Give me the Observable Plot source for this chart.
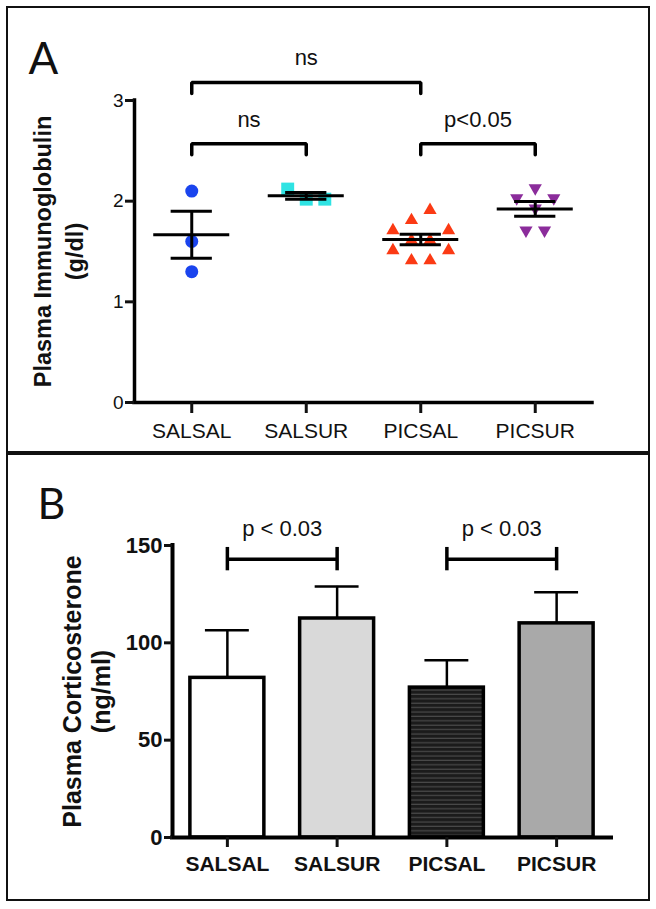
<!DOCTYPE html>
<html>
<head>
<meta charset="utf-8">
<script src="https://cdn.jsdelivr.net/npm/d3@7"></script>
<script src="https://cdn.jsdelivr.net/npm/@observablehq/plot@0.6"></script>
<style>
html, body { margin: 0; padding: 0; background: #fff; }
#page { position: relative; width: 656px; height: 909px; overflow: hidden; }
.abs { position: absolute; left: 0; }
#box { position: absolute; left: 6px; top: 6px; width: 644px; height: 895px; border: 2px solid #111; box-sizing: border-box; pointer-events: none; }
#divider { position: absolute; left: 6px; top: 451px; width: 644px; height: 4px; background: #111; }
</style>
</head>
<body>
<div id="page">
  <div id="panelA" class="abs" style="top:0"></div>
  <div id="panelB" class="abs" style="top:453px"></div>
  <div id="box"></div>
  <div id="divider"></div>
</div>
<script>
// ---------- data ----------
const groups = ["SALSAL", "SALSUR", "PICSAL", "PICSUR"];

// Panel A: plasma immunoglobulin (g/dl), individual animals (data order)
const immSALSAL = [2.10, 1.60, 1.30];
const immSALSUR = [2.12, 2.02, 2.02];
const immPICSAL = [1.81, 1.91, 1.71, 1.61, 1.61, 1.71, 1.51, 1.41, 1.41, 1.51];
const immPICSUR = [2.03, 2.13, 2.03, 1.93, 1.71, 1.71];
const immTicks = [0, 1, 2, 3];
const immComparisons = [
  {from: "SALSAL", to: "PICSAL", label: "ns", level: 3.18},
  {from: "SALSAL", to: "SALSUR", label: "ns", level: 2.57},
  {from: "PICSAL", to: "PICSUR", label: "p<0.05", level: 2.57}
];

// Panel B: plasma corticosterone (ng/ml), mean and SEM
const corticoMean = [82, 112.5, 77, 110];
const corticoSEM = [24.5, 16.5, 14, 16];
const corticoTicks = [0, 50, 100, 150];
const corticoComparisons = [
  {from: "SALSAL", to: "SALSUR", label: "p < 0.03", level: 143},
  {from: "PICSAL", to: "PICSUR", label: "p < 0.03", level: 143}
];

// ---------- styles ----------
const font = "'Liberation Sans', Arial, Helvetica, sans-serif";
const pointColor = ["#1a44ee", "#2fe3e3", "#fb3a14", "#8b2c9b"];
const downTriangle = {
  draw(ctx, size) {
    const y = Math.sqrt(size / (Math.sqrt(3) * 3));
    ctx.moveTo(0, 2 * y);
    ctx.lineTo(-Math.sqrt(3) * y, -y);
    ctx.lineTo(Math.sqrt(3) * y, -y);
    ctx.closePath();
  }
};
const pointSymbol = ["circle", "square", "triangle", downTriangle];
const pointR = [6.5, 7.3, 4.9, 4.9];
const barFill = ["#ffffff", "#d9d9d9", "url(#stripes)", "#a9a9a9"];

// ---------- derived ----------
const step = 0.162, binWidth = 0.2;
function columnScatter(values, gi) {
  const bins = d3.group(values.map(v => ({v})), p => Math.floor(p.v / binWidth + 1e-9));
  const out = [];
  for (const members of bins.values()) {
    const n = members.length;
    members.forEach((p, j) => out.push({gi, value: p.v, x: gi + (j - (n - 1) / 2) * step}));
  }
  return out;
}
const immSeries = [immSALSAL, immSALSUR, immPICSAL, immPICSUR];
const points = immSeries.map((vals, gi) => columnScatter(vals, gi));
const stats = immSeries.map((vals, gi) => {
  const m = d3.mean(vals), s = d3.deviation(vals) / Math.sqrt(vals.length);
  return {gi, mean: m, lo: m - s, hi: m + s};
});
const legA = 0.11;
const bracketPts = immComparisons.flatMap((c, k) => {
  const a = groups.indexOf(c.from), b = groups.indexOf(c.to);
  return [[a, c.level - legA], [a, c.level], [b, c.level], [b, c.level - legA]].map(([x, y]) => ({k, x, y}));
});
const mid = c => (groups.indexOf(c.from) + groups.indexOf(c.to)) / 2;

// ---------- panel A ----------
const plotA = Plot.plot({
  width: 656, height: 453,
  marginLeft: 134, marginRight: 64, marginTop: 100, marginBottom: 51,
  x: {domain: [-0.5, 3.5]},
  y: {domain: [0, 3]},
  style: {background: "transparent", fontFamily: font, color: "#111"},
  marks: [
    ...points.map((pts, gi) => Plot.dot(pts, {x: "x", y: "value", r: pointR[gi], symbol: pointSymbol[gi], fill: pointColor[gi]})),
    Plot.ruleY(stats, {y: "mean", x1: d => d.gi - 0.332, x2: d => d.gi + 0.332, stroke: "black", strokeWidth: 3}),
    Plot.ruleY(stats, {y: "lo", x1: d => d.gi - 0.18, x2: d => d.gi + 0.18, stroke: "black", strokeWidth: 3}),
    Plot.ruleY(stats, {y: "hi", x1: d => d.gi - 0.18, x2: d => d.gi + 0.18, stroke: "black", strokeWidth: 3}),
    Plot.ruleX(stats, {x: "gi", y1: "lo", y2: "hi", stroke: "black", strokeWidth: 3}),
    Plot.line(bracketPts, {x: "x", y: "y", z: "k", stroke: "black", strokeWidth: 3.5, strokeLinejoin: "miter"}),
    Plot.text(immComparisons, {x: mid, y: c => c.level + 0.24, text: "label", fontSize: 22, fill: "#111"}),
    Plot.ruleX([-0.5], {y1: 0, y2: 3, stroke: "black", strokeWidth: 3.5, strokeLinecap: "square"}),
    Plot.ruleY([0], {x1: -0.5, x2: 3.5, stroke: "black", strokeWidth: 3.5, strokeLinecap: "square"}),
    Plot.axisY({ticks: immTicks, tickFormat: "d", tickSize: 9, tickPadding: 2, fontSize: 19, strokeWidth: 3, label: null}),
    Plot.axisX({ticks: [0, 1, 2, 3], tickFormat: i => groups[i], tickSize: 11, tickPadding: 10, fontSize: 21, strokeWidth: 3, label: null}),
    Plot.text(["Plasma Immunoglobulin\n(g/dl)"], {text: d => d, frameAnchor: "left", textAnchor: "middle", rotate: -90, dx: -78, fontSize: 23.5, fontWeight: "bold", lineHeight: 1.36}),
    Plot.text(["A"], {text: d => d, frameAnchor: "top-left", textAnchor: "start", lineAnchor: "top", dx: -106, dy: -58, fontSize: 44, fontFamily: "Lato"})
  ]
});
document.getElementById("panelA").appendChild(plotA);

// ---------- panel B ----------
const bars = groups.map((g, i) => ({g, i, mean: corticoMean[i], top: corticoMean[i] + corticoSEM[i]}));
const barTicks = corticoComparisons.flatMap(c => [c.from, c.to].map(g => ({x: groups.indexOf(g), level: c.level})));
const plotB = Plot.plot({
  width: 656, height: 456,
  marginLeft: 172, marginRight: 45, marginTop: 92, marginBottom: 72,
  x: {domain: [-0.5, 3.5]},
  y: {domain: [0, 150]},
  color: {type: "identity"},
  style: {background: "transparent", fontFamily: font, color: "#111"},
  marks: [
    Plot.rectY(bars, {x1: d => d.i - 0.337, x2: d => d.i + 0.337, y1: 0, y2: "mean", fill: d => barFill[d.i], stroke: "black", strokeWidth: 3.5}),
    Plot.ruleX(bars, {x: "i", y1: "mean", y2: "top", stroke: "black", strokeWidth: 2.5}),
    Plot.ruleY(bars, {y: "top", x1: d => d.i - 0.2, x2: d => d.i + 0.2, stroke: "black", strokeWidth: 2.5}),
    Plot.ruleY(corticoComparisons, {y: "level", x1: c => groups.indexOf(c.from), x2: c => groups.indexOf(c.to), stroke: "black", strokeWidth: 3.5}),
    Plot.ruleX(barTicks, {x: "x", y1: d => d.level - 6, y2: d => d.level + 6, stroke: "black", strokeWidth: 3.5}),
    Plot.text(corticoComparisons, {x: mid, y: c => c.level + 15.4, text: "label", fontSize: 22, fill: "#111"}),
    Plot.ruleX([-0.5], {y1: 0, y2: 150, stroke: "black", strokeWidth: 4, strokeLinecap: "square"}),
    Plot.ruleY([0], {x1: -0.5, x2: 3.5, stroke: "black", strokeWidth: 4, strokeLinecap: "square"}),
    Plot.axisY({ticks: corticoTicks, tickSize: 8, tickPadding: 2, fontSize: 22, fontWeight: "bold", strokeWidth: 3, label: null}),
    Plot.axisX({ticks: [0, 1, 2, 3], tickFormat: i => groups[i], tickSize: 10, tickPadding: 9, fontSize: 21, fontWeight: "bold", strokeWidth: 3, label: null}),
    Plot.text(["Plasma Corticosterone\n(ng/ml)"], {text: d => d, frameAnchor: "left", textAnchor: "middle", rotate: -90, dx: -86, fontSize: 25, fontWeight: "bold", lineHeight: 1.14}),
    Plot.text(["B"], {text: d => d, frameAnchor: "top-left", textAnchor: "start", lineAnchor: "top", dx: -135, dy: -57, fontSize: 43, fontFamily: "Lato"})
  ]
});
const defs = d3.select(plotB).insert("defs", ":first-child");
const pat = defs.append("pattern").attr("id", "stripes").attr("patternUnits", "userSpaceOnUse").attr("width", 10).attr("height", 4.4);
pat.append("rect").attr("width", 10).attr("height", 4.4).attr("fill", "#1b1b1b");
pat.append("rect").attr("y", 3.2).attr("width", 10).attr("height", 1.2).attr("fill", "#4a4a4a");
document.getElementById("panelB").appendChild(plotB);
</script>
</body>
</html>
